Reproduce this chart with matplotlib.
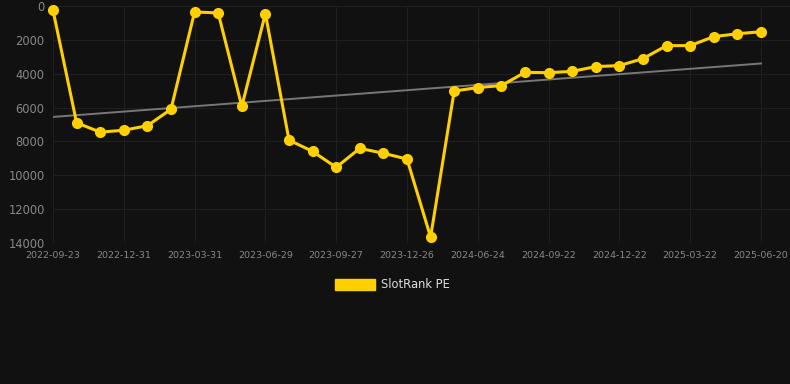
import numpy as np
import matplotlib.pyplot as plt

# SlotRank PE values, one per period (lower rank = better, axis inverted)
rank = [250, 6900, 7450, 7340, 7070, 6100, 350, 410, 5930, 450,
        7920, 8590, 9530, 8410, 8700, 9040, 13650, 5020, 4820, 4700,
        3920, 3940, 3860, 3580, 3520, 3110, 2340, 2340, 1810, 1640, 1520]
tick_labels = ['2022-09-23', '2022-12-31', '2023-03-31', '2023-06-29',
               '2023-09-27', '2023-12-26', '2024-06-24', '2024-09-22',
               '2024-12-22', '2025-03-22', '2025-06-20']
yticks = [0, 2000, 4000, 6000, 8000, 10000, 12000, 14000]

bg = '#111111'
gold = '#ffd000'

x = np.arange(len(rank))
slope, icept = np.polyfit(x, rank, 1)

fig = plt.figure(figsize=(7.9, 3.84), dpi=100, facecolor=bg)
ax = fig.add_axes([53 / 790, 1 - 243 / 384, (790 - 53) / 790, (243 - 6) / 384])
ax.set_facecolor(bg)

ax.plot(x, icept + slope * x, color='#777777', lw=1.4, zorder=2)
ax.plot(x, rank, color=gold, lw=2.2, marker='o', ms=7, zorder=3,
        clip_on=False, label='SlotRank PE')

ax.set_xlim(0, 30 * (790 - 53) / (761 - 53))
ax.set_ylim(14000, 0)
ax.set_xticks(x[::3])
ax.set_xticklabels(tick_labels)
ax.set_yticks(yticks)

ax.grid(True, color='#1f1f1f', lw=0.8)
for s in ax.spines.values():
    s.set_visible(False)
ax.tick_params(axis='x', colors='#888888', labelsize=6.8, length=0, pad=6)
ax.tick_params(axis='y', colors='#888888', labelsize=8.3, length=0, pad=6)

leg = fig.legend(handles=[plt.Rectangle((0, 0), 1, 1, color=gold)],
                 labels=['SlotRank PE'], loc='center', bbox_to_anchor=(392 / 790, 1 - 285 / 384),
                 frameon=False, handlelength=3.5, handleheight=1.0, handletextpad=0.5,
                 fontsize=8.3, labelcolor='#dddddd')

fig.savefig('out.png', dpi=100, facecolor=bg)
